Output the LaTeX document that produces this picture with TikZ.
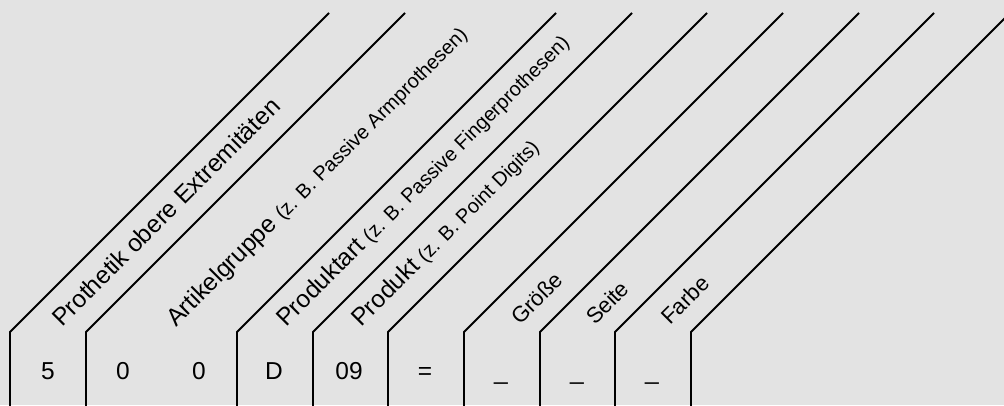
\documentclass[tikz,border=0pt]{standalone}
\usepackage{fontspec}
\setmainfont{Liberation Sans}
\usetikzlibrary{positioning}
\definecolor{bggray}{RGB}{227,227,227}
\tikzstyle{sepline} = [line width=1.8pt, line join=miter]
\tikzstyle{field}   = [font=\fontsize{24.5}{24.5}\selectfont, rotate=45, anchor=base west, inner sep=0pt]
\tikzstyle{subfield}= [font=\fontsize{22}{22}\selectfont, rotate=45, anchor=base west, inner sep=0pt]
\tikzstyle{digit}   = [font=\fontsize{24.5}{24.5}\selectfont, anchor=base, inner sep=0pt]
\newcommand{\bsp}[1]{{\fontsize{20}{20}\selectfont #1}}

\begin{document}
\begin{tikzpicture}[x=1pt,y=-1pt]

\useasboundingbox (0,0) rectangle (1004,405);
\fill[bggray] (0,0) rectangle (1004,405);
\clip (0,0) rectangle (1004,405);

% separators
\foreach \sx in {10,86,237,313,388,464,540,615,691}
  \draw[sepline] (\sx,410) -- (\sx,332) -- ++(319,-319);

% labels
\node[field] (prothetik) at (62,328) {Prothetik obere Extremitäten};
\node[field] (gruppe)    at (176,328) {Artikelgruppe \bsp{(z. B. Passive Armprothesen)}};
\node[field] (art)       at (286,328) {Produktart \bsp{(z. B. Passive Fingerprothesen)}};
\node[field] (produkt)   at (361,328) {Produkt \bsp{(z. B. Point Digits)}};
\node[subfield] (groesse) at (520,326) {Größe};
\node[subfield] (seite)   at (595,326) {Seite};
\node[subfield] (farbe)   at (670,326) {Farbe};

% code
\node[digit] (d1) at (48,379) {5};
\node[digit] (d2) at (123,379) {0};
\node[digit] (d3) at (199,379) {0};
\node[digit] (d4) at (274,379) {D};
\node[digit] (d5) at (349,379) {09};
\node[digit] (d6) at (425,379) {=};
\node[digit] (d7) at (501,379) {\_};
\node[digit] (d8) at (577,379) {\_};
\node[digit] (d9) at (652,379) {\_};

\end{tikzpicture}
\end{document}
